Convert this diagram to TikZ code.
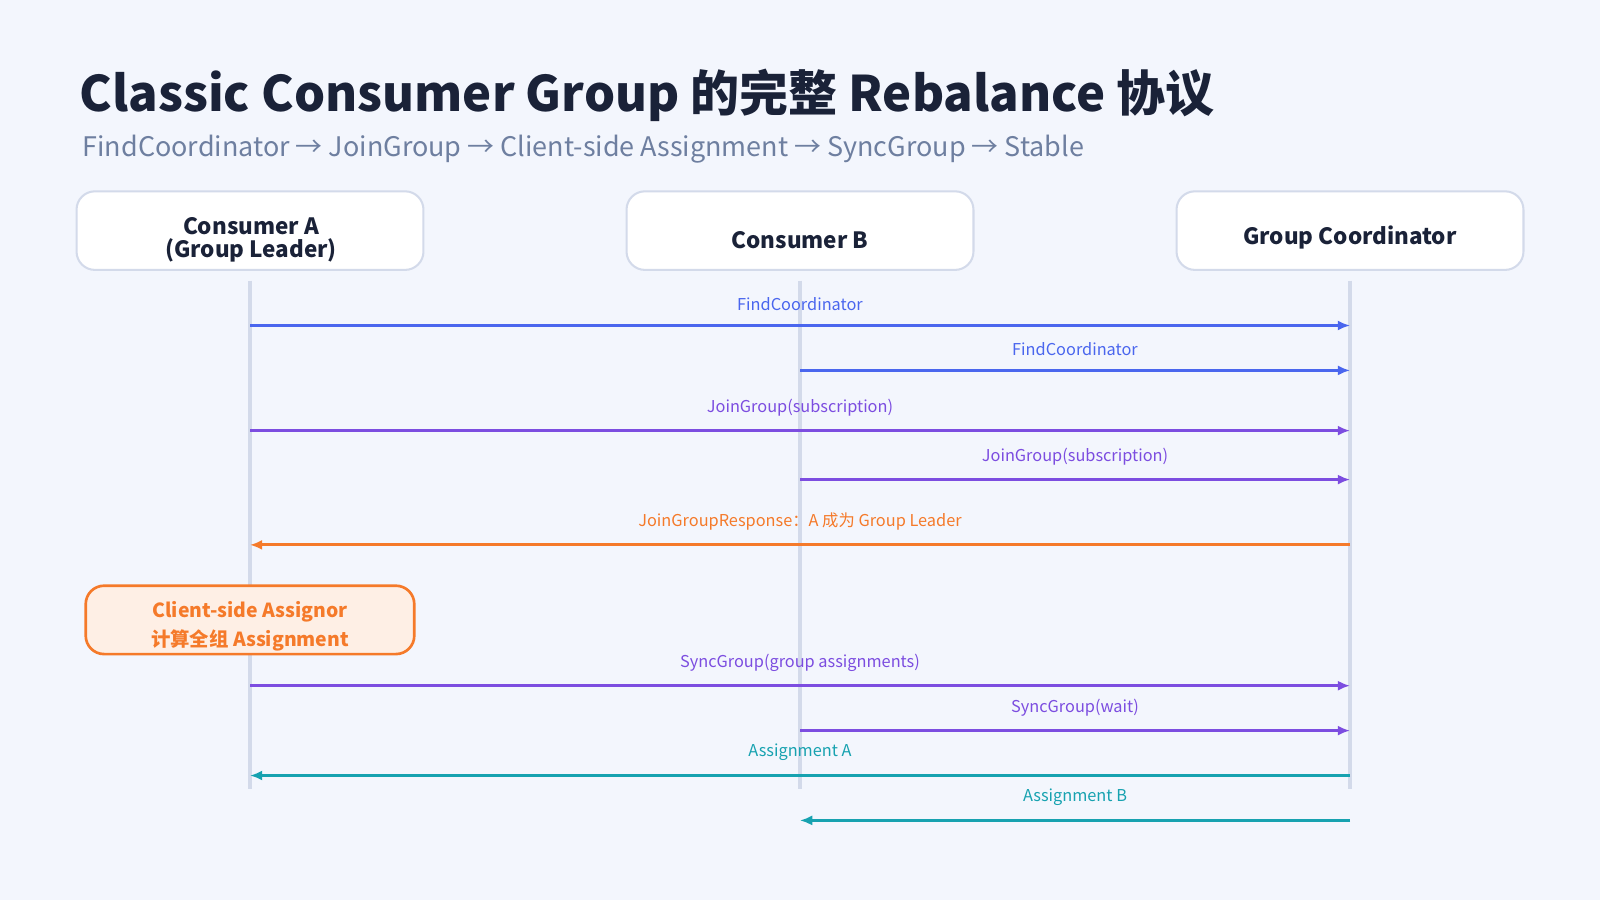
\documentclass[tikz,border=0pt]{standalone}
\usepackage{fontspec}
\setmainfont{Noto Sans CJK SC}
\usetikzlibrary{arrows.meta}
\definecolor{bg}{HTML}{F3F6FD}
\definecolor{navy}{HTML}{1A2238}
\definecolor{sub}{HTML}{6E7FA0}
\definecolor{cblue}{HTML}{4A66EE}
\definecolor{cpurp}{HTML}{7C4DE0}
\definecolor{corg}{HTML}{F57A2A}
\definecolor{cteal}{HTML}{17A2B0}
\definecolor{life}{HTML}{D3DAEA}
\begin{document}
\begin{tikzpicture}[x=0.5pt,y=-0.5pt,
 actor/.style={draw=life,line width=1pt,fill=white,rounded corners=9pt,minimum width=170pt,minimum height=38.5pt,text=navy,align=center},
 afont/.style={font=\bfseries\fontsize{11}{11}\selectfont},
 msg/.style={line width=1.5pt,-{Latex[length=6pt,width=5pt]}},
 lbl/.style={font=\fontsize{8}{9}\selectfont}]
\fill[bg] (0,0) rectangle (1568,882);
\useasboundingbox (0,0) rectangle (1568,882);
\node[anchor=west,font=\bfseries\fontsize{24}{28}\selectfont,text=navy] (t) at (71,93) {Classic Consumer Group 的完整 Rebalance 协议};
\node[anchor=west,font=\fontsize{13.2}{16}\selectfont,text=sub] (s) at (74,146) {FindCoordinator → JoinGroup → Client-side Assignment → SyncGroup → Stable};
\node[actor] (A) at (245,226) {};
\node[actor] (B) at (784,226) {};
\node[actor] (C) at (1323,226) {};
\node[afont,text=navy,align=center] (At) at (246,235) {Consumer A\\(Group Leader)};
\node[afont,text=navy] (Bt) at (784,235) {Consumer B};
\node[afont,text=navy] (Ct) at (1323,233) {Group Coordinator};
\foreach \n/\x in {a/245,b/784,c/1323}{
 \coordinate (\n0) at (\x,275); \coordinate (\n1) at (\x,773);
 \draw[life,line width=1.5pt] (\n0)--(\n1);
 \foreach \y in {319,363,422,470,534,672,716,760,804}{\coordinate (\n\y) at (\x,\y);}
}
\draw[msg,cblue] (a319)--node[lbl,above=3pt]{FindCoordinator}(c319);
\draw[msg,cblue] (b363)--node[lbl,above=3pt]{FindCoordinator}(c363);
\draw[msg,cpurp] (a422)--node[lbl,above=3pt]{JoinGroup(subscription)}(c422);
\draw[msg,cpurp] (b470)--node[lbl,above=3pt]{JoinGroup(subscription)}(c470);
\draw[msg,corg] (c534)--node[lbl,above=3pt]{JoinGroupResponse：A 成为 Group Leader}(a534);
\node[draw=corg,line width=1.3pt,fill=corg!12,rounded corners=9pt,minimum width=161pt,minimum height=33.5pt] (as) at (245,607.5) {};
\node[align=center,text=corg,font=\bfseries\fontsize{9.5}{14}\selectfont] (ast) at (245,614) {Client-side Assignor\\计算全组 Assignment};
\draw[msg,cpurp] (a672)--node[lbl,above=3pt]{SyncGroup(group assignments)}(c672);
\draw[msg,cpurp] (b716)--node[lbl,above=3pt]{SyncGroup(wait)}(c716);
\draw[msg,cteal] (c760)--node[lbl,above=3pt]{Assignment A}(a760);
\draw[msg,cteal] (c804)--node[lbl,above=3pt]{Assignment B}(b804);
\end{tikzpicture}
\end{document}
